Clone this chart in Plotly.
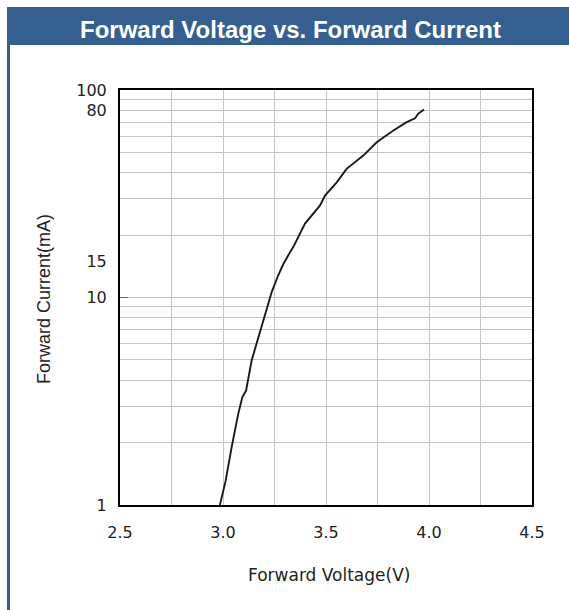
import plotly.graph_objects as go

# Forward voltage (V) vs forward current (mA) of the LED
voltage = [2.985, 3.013, 3.042, 3.074, 3.094, 3.112, 3.139, 3.163, 3.188, 3.212,
           3.236, 3.268, 3.293, 3.325, 3.341, 3.398, 3.471, 3.495, 3.552, 3.600,
           3.681, 3.746, 3.827, 3.892, 3.932, 3.948, 3.976]
current = [1.0, 1.31, 1.90, 2.75, 3.31, 3.56, 4.97, 5.98, 7.19, 8.66,
           10.6, 12.8, 14.5, 16.5, 17.5, 22.7, 27.8, 31.0, 35.9, 41.7,
           48.3, 56.0, 63.8, 70.0, 73.1, 76.8, 80.5]

x_ticks = [2.5, 3.0, 3.5, 4.0, 4.5]
x_ticktext = ["2.5", "3.0", "3.5", "4.0", "4.5"]
y_ticks = [1, 10, 15, 80, 100]
y_ticktext = ["1", "10", "15", "80", "100"]
y_grid = [2, 3, 4, 5, 6, 7, 8, 9, 10, 20, 30, 40, 50, 60, 70, 80, 90]

W, H = 569, 610
L, R, T, B = 120, 532, 90, 505
BLUE = "#355f8e"


def px(xp):
    return (xp - L) / (R - L)


def py(yp):
    return (B - yp) / (B - T)


fig = go.Figure()
fig.add_trace(go.Scatter(
    x=voltage, y=current, mode="lines",
    line=dict(color="#1a1a1a", width=1.9),
    hoverinfo="x+y", showlegend=False,
))

tick_font = dict(family="DejaVu Sans, Verdana, sans-serif", size=16, color="#222222")

fig.update_layout(
    width=W, height=H,
    margin=dict(l=L, r=W - R, t=T, b=H - B, pad=0),
    paper_bgcolor="white", plot_bgcolor="white",
    xaxis=dict(
        range=[2.5, 4.5], tickvals=x_ticks, ticktext=x_ticktext,
        showgrid=False, zeroline=False, ticks="",
        showline=True, mirror=True, linecolor="black", linewidth=2,
        tickfont=tick_font, ticklabelstandoff=12,
        minor=dict(dtick=0.25, showgrid=True, gridcolor="#c4c4c4", gridwidth=1, ticks=""),
    ),
    yaxis=dict(
        type="log", range=[0, 2], tickvals=y_ticks, ticktext=y_ticktext,
        showgrid=False, zeroline=False, ticks="",
        showline=True, mirror=True, linecolor="black", linewidth=2,
        tickfont=tick_font, ticklabelstandoff=8,
        minor=dict(tickvals=y_grid, showgrid=True, gridcolor="#c4c4c4", gridwidth=1, ticks=""),
    ),
    shapes=[
        # header bar
        dict(type="rect", xref="paper", yref="paper",
             x0=px(7), x1=px(W + 2), y0=py(45), y1=py(7),
             fillcolor=BLUE, line=dict(width=0), layer="above"),
        # left frame stripe
        dict(type="rect", xref="paper", yref="paper",
             x0=px(7), x1=px(10), y0=py(H + 2), y1=py(45),
             fillcolor=BLUE, line=dict(width=0), layer="above"),
        # short inner tick at 10 mA
        dict(type="line", xref="paper", yref="paper",
             x0=0, x1=px(128), y0=0.5, y1=0.5,
             line=dict(color="#666666", width=1)),
    ],
    annotations=[
        dict(text="<b>Forward Voltage vs. Forward Current</b>",
             xref="paper", yref="paper", x=px(290), y=py(30),
             xanchor="center", yanchor="middle", showarrow=False,
             font=dict(family="Liberation Sans, Arial, sans-serif", size=24, color="white")),
        dict(text="Forward Voltage(V)",
             xref="paper", yref="paper", x=px(329), y=py(575),
             xanchor="center", yanchor="middle", showarrow=False,
             font=dict(family="DejaVu Sans, Verdana, sans-serif", size=17, color="#222222")),
        dict(text="Forward Current(mA)", textangle=-90,
             xref="paper", yref="paper", x=px(44), y=py(299),
             xanchor="center", yanchor="middle", showarrow=False,
             font=dict(family="Liberation Sans, Arial, sans-serif", size=18, color="#222222")),
    ],
)

fig.write_html("out.html")
